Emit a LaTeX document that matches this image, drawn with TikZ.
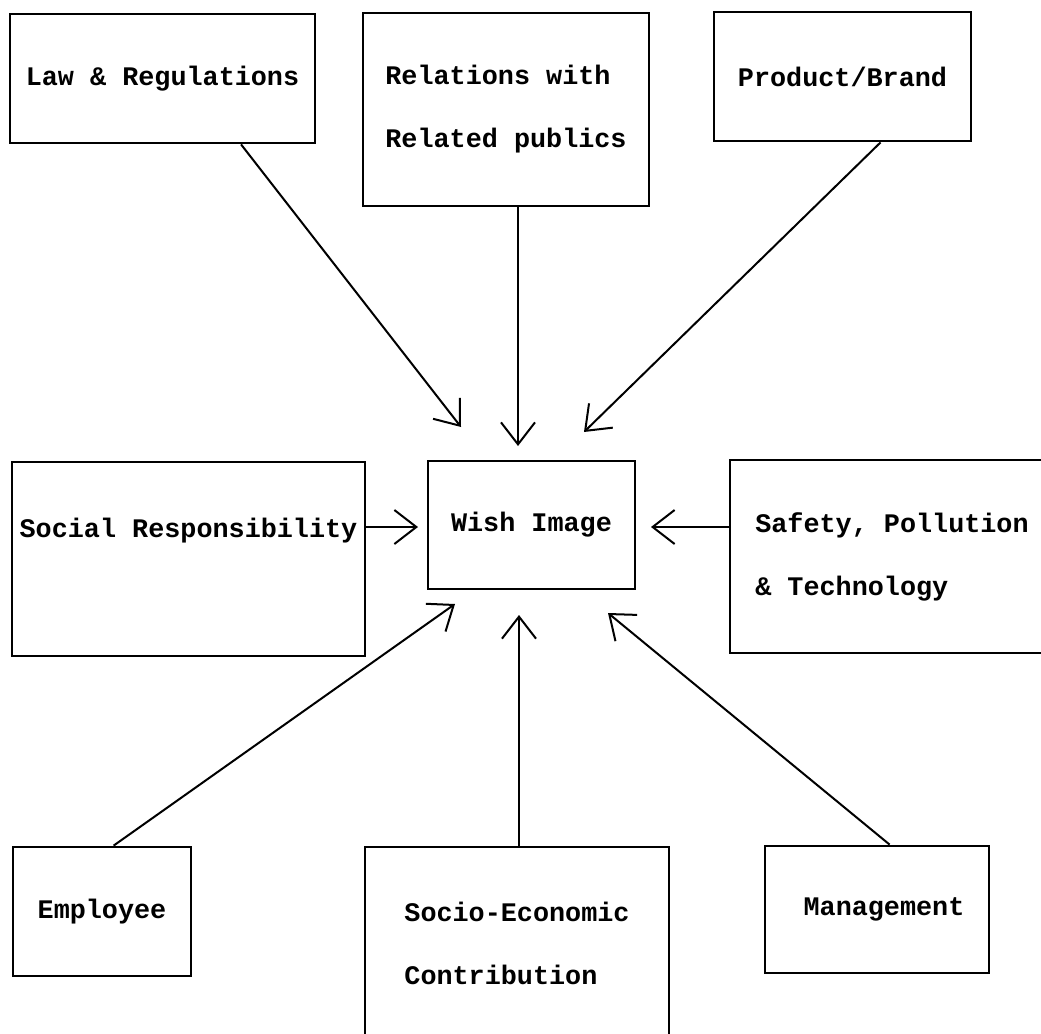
\documentclass[tikz,border=0pt]{standalone}
\usepackage{fontspec}
\setmonofont{Liberation Mono}
\usepackage{tikz}
\usetikzlibrary{positioning}
\usetikzlibrary{arrows.meta,calc}
\tikzstyle{factor}=[rectangle,draw=black,line width=1.4pt,inner sep=0pt,align=left,font=\ttfamily\bfseries\fontsize{13.4}{31.5}\selectfont]
\tikzstyle{arrowedge} = [draw,line width=1pt,-{Straight Barb[length=11pt,width=17pt,line width=1pt]}]

\begin{document}
\begin{tikzpicture}[x=0.5pt,y=-0.5pt]

  \def\u{0.5pt};

  \useasboundingbox (0,0) rectangle (1041,1034);

   % boxes: centre x / centre y / width / height
   \foreach \x/\y/\w/\h/\name/\label in {162.5/78.5/305/129/law/{Law \& Regulations}, 506/109.5/286/193/rel/{Relations with\\Related publics}, 842.5/76.5/257/129/prod/{Product/Brand}}
          \node[factor, minimum width=\w*\u, minimum height=\h*\u] (\name) at (\x, \y) {\label};

   \foreach \x/\y/\w/\h/\name/\label in {188.5/559/353/194/social/{Social Responsibility\\\mbox{}}, 531.5/525/207/128/wish/{Wish Image}, 892/556.5/324/193/safety/{Safety, Pollution\\\& Technology}}
          \node[factor, minimum width=\w*\u, minimum height=\h*\u] (\name) at (\x, \y) {\label};

   \foreach \x/\y/\w/\h/\name/\label in {102/911.5/178/129/emp/{Employee}, 517/943.5/304/193/soc/{Socio-Economic\\Contribution}, 877/909.5/224/127/mgmt/{\hspace{7pt}Management}}
          \node[factor, minimum width=\w*\u, minimum height=\h*\u] (\name) at (\x, \y) {\label};

   % arrow tips round the wish image
   \foreach \x/\y/\name in {461/427/tlaw, 518/446/trel, 584/432/tprod, 418/527/tsocial, 651/527/tsafety, 455/604/temp, 519/615/tsoc, 608/613/tmgmt}
          \coordinate (\name) at (\x, \y);


  \foreach \source/ \dest in {law.-40/tlaw, prod.-60/tprod, emp.80/temp, mgmt.79/tmgmt}
         \path[arrowedge] (\source) -- (\dest);

  \foreach \source/ \dest in {rel.south/trel, soc.north/tsoc}
         \path[arrowedge] (\source -| \dest) -- (\dest);

  \foreach \source/ \dest in {social.east/tsocial, safety.west/tsafety}
         \path[arrowedge] (\source |- \dest) -- (\dest);

   \end{tikzpicture}
\end{document}
